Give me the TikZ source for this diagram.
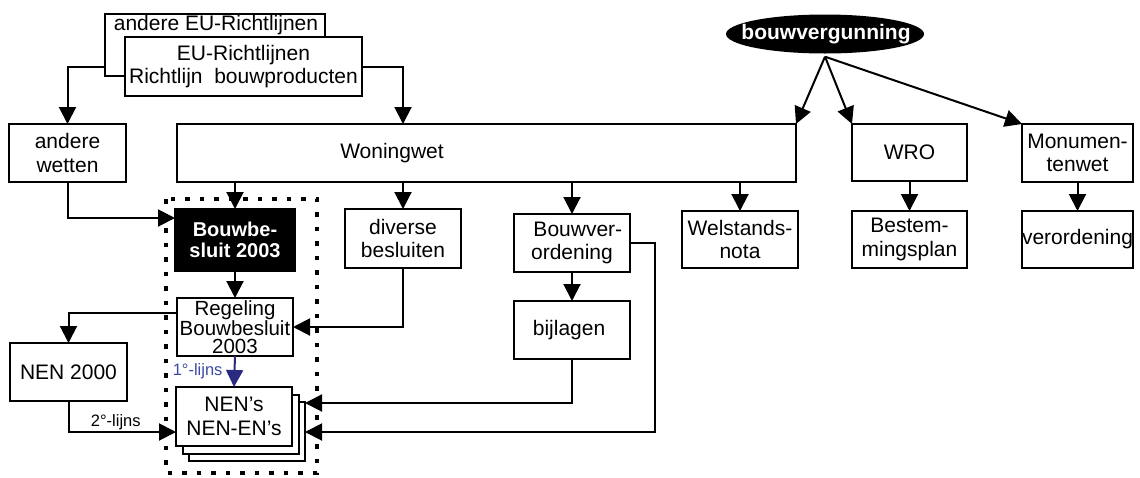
\documentclass[tikz,border=0pt]{standalone}
\usepackage{fontspec}
\setmainfont{Liberation Sans}
\usetikzlibrary{arrows.meta,calc,shapes.geometric}
\definecolor{navy}{HTML}{2A2A80}
\definecolor{navytext}{HTML}{3B4AA0}
\tikzset{
  box/.style={draw, line width=2pt, fill=white, inner sep=0pt, outer sep=0pt, align=center,
    font=\fontsize{21}{23.5}\selectfont},
  darkbox/.style={box, fill=black, text=white, font=\fontsize{20}{21}\selectfont\bfseries},
  arr/.style={line width=2pt, -{Triangle[length=17pt,width=17pt]}},
  dotbox/.style={line width=4.5pt, dash pattern=on 4.5pt off 10pt},
  smalllabel/.style={font=\fontsize{16.5}{18}\selectfont, inner sep=1pt}
}
\begin{document}
\begin{tikzpicture}[x=1pt,y=-1pt]
\useasboundingbox (0,0) rectangle (1140,477);
% dotted frame
\draw[dotbox] (166,199) rectangle (317,473);
% EU boxes
\node[box, minimum width=220, minimum height=62] (andereEU) at (215,45) {};
\node[font=\fontsize{21}{23}\selectfont, inner sep=0pt] (andereEUtext) at (216,25) {andere EU-Richtlijnen};
\node[box, minimum width=237, minimum height=59] (EU) at (243.5,66.5) {EU-Richtlijnen\\Richtlijn\ \ bouwproducten};
% left column
\node[box, minimum width=117, minimum height=58] (anderewetten) at (67.5,153) {andere\\wetten};
\node[box, minimum width=117, minimum height=58] (nen2000) at (68.5,372) {NEN 2000};
% woningwet
\node[box, minimum width=619, minimum height=58] (woningwet) at (486.5,153) {};
\node[font=\fontsize{21}{23}\selectfont, inner sep=0pt] (woningwettext) at (392,153) {Woningwet};
% bouwbesluit column
\node[darkbox, minimum width=120, minimum height=62] (bouwbesluit) at (235,240) {Bouwbe-\\sluit 2003};
\node[box, minimum width=116, minimum height=58, font=\fontsize{20.5}{18.5}\selectfont] (regeling) at (235,327) {Regeling\\Bouwbesluit\\2003};
\node[box, minimum width=116, minimum height=59] (nensback2) at (247,431) {};
\node[box, minimum width=116, minimum height=59] (nensback1) at (240.5,424) {};
\node[box, minimum width=116, minimum height=59] (nens) at (234,416.5) {NEN’s\\NEN-EN’s};
% middle
\node[box, minimum width=116, minimum height=59] (diverse) at (403,238.5) {diverse\\besluiten};
\node[box, minimum width=116, minimum height=58] (bouwver) at (572,243) {\ \ Bouwver-\\ordening};
\node[box, minimum width=116, minimum height=58] (bijlagen) at (572,330) {bijlagen\ };
\node[box, minimum width=116, minimum height=57] (welstands) at (740,239.5) {Welstands-\\nota};
% right
\node[box, minimum width=115, minimum height=57] (wro) at (909.5,152.5) {WRO};
\node[box, minimum width=115, minimum height=57] (bestem) at (909.5,239.5) {Bestem-\\mingsplan};
\node[box, minimum width=111, minimum height=58] (monumenten) at (1077.5,153) {Monumen-\\tenwet};
\node[box, minimum width=111, minimum height=57] (verordening) at (1077.5,239.5) {verordening};
% ellipse
\node[ellipse, fill=black, inner sep=0pt, minimum width=198, minimum height=39] (bv) at (825,34) {};
\node[text=white, inner sep=0pt, font=\fontsize{21}{23}\selectfont\bfseries] (bvtext) at (826,34) {bouwvergunning};
% connectors
\draw[arr] (andereEU.west |- EU.east) -| (anderewetten.north);
\draw[arr] (EU.east) -| ($(woningwet.north west)+(226,0)$);
\draw[arr] ([yshift=-3pt]bv.south) -- (woningwet.north east);
\draw[arr] ([yshift=-3pt]bv.south) -- (wro.north west);
\draw[arr] ([yshift=-3pt]bv.south) -- (monumenten.north west);
\draw[arr] (bouwbesluit.north |- woningwet.south) -- (bouwbesluit.north);
\draw[arr] (diverse.north |- woningwet.south) -- (diverse.north);
\draw[arr] (bouwver.north |- woningwet.south) -- (bouwver.north);
\draw[arr] (welstands.north |- woningwet.south) -- (welstands.north);
\draw[arr] (wro.south) -- (bestem.north);
\draw[arr] (monumenten.south) -- (verordening.north);
\draw[arr] (bouwver.south) -- (bijlagen.north);
\draw[arr] (bouwbesluit.south) -- (regeling.north);
\draw[arr] (anderewetten.south) |- ([yshift=22pt]bouwbesluit.west);
\draw[arr] (diverse.south) |- (regeling.east);
\draw[arr] ([yshift=14pt]regeling.west) -| (nen2000.north);
\draw[arr] (nen2000.south) |- node[smalllabel, pos=0.72, anchor=south] {2°-lijns} ([yshift=-15.5pt]nens.west);
\draw[arr, navy] (regeling.south) -- node[smalllabel, text=navytext, anchor=east, pos=0.5, xshift=-10pt] {1°-lijns} (nens.north);
\draw[arr] (bijlagen.south) |- ([yshift=28pt]nensback2.east);
\draw[arr] (bouwver.east) -- ++(25,0) |- ([yshift=-1pt]nensback2.east);
\end{tikzpicture}
\end{document}
